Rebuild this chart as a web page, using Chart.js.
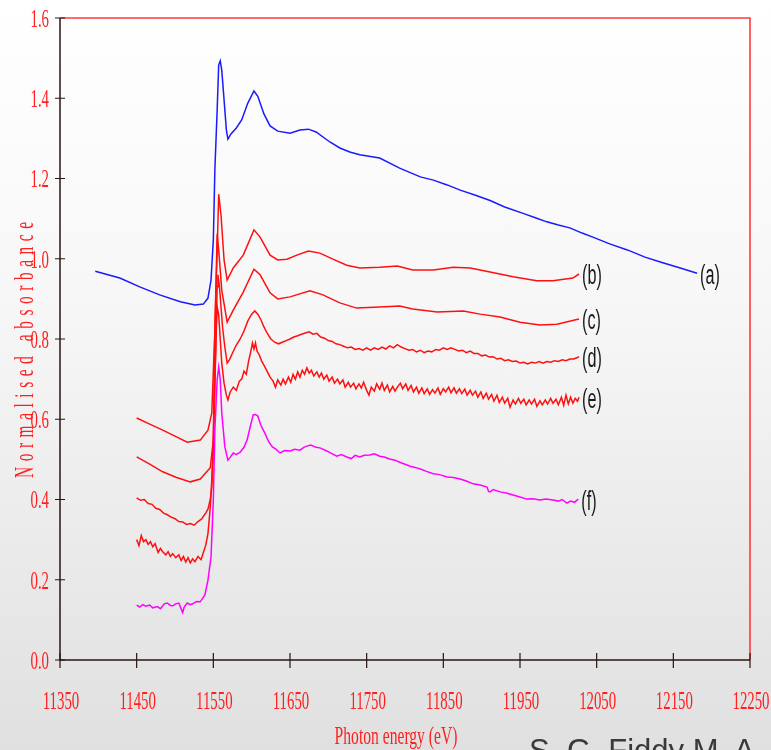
<!DOCTYPE html>
<html>
<head>
<meta charset="utf-8">
<script src="https://cdn.jsdelivr.net/npm/chart.js@4.4.1/dist/chart.umd.min.js"></script>
<style>
  html, body { margin: 0; padding: 0; }
  body {
    width: 771px; height: 750px; overflow: hidden; position: relative;
    background: linear-gradient(to bottom, #ffffff 0%, #f7f7f7 40%, #dfe0df 100%);
  }
  #wrap { position: absolute; left: 0; top: 0; width: 771px; height: 750px; }
  #credit {
    position: absolute; left: 529px; top: 735px;
    font-family: "Liberation Sans", Arial, sans-serif; font-size: 31px; line-height: 31px;
    color: #3a3a3a; white-space: nowrap;
  }
</style>
</head>
<body>
<div id="wrap"><canvas id="xanes" width="771" height="750"></canvas></div>
<div id="credit">S. G. Fiddy M. A</div>
<script>
// tick values
const xTicks = [11350, 11450, 11550, 11650, 11750, 11850, 11950, 12050, 12150, 12250];
const yTicks = [0, 0.2, 0.4, 0.6, 0.8, 1.0, 1.2, 1.4, 1.6];

const xTitle = 'Photon energy (eV)';
const yTitle = 'Normalised absorbance';

// [photon energy (eV), normalised absorbance]
const curveA = [[11396,0.969],[11428,0.952],[11454,0.930],[11480,0.910],[11507,0.893],[11526,0.885],[11537,0.887],
  [11543,0.902],[11547,0.947],[11550,1.047],[11552,1.221],[11555,1.371],[11557,1.483],[11559,1.493],[11561,1.470],
  [11564,1.396],[11567,1.321],[11569,1.298],[11573,1.311],[11580,1.326],[11587,1.346],[11595,1.388],[11603,1.418],
  [11608,1.405],[11616,1.361],[11624,1.331],[11634,1.318],[11650,1.313],[11663,1.321],[11674,1.323],[11684,1.316],
  [11702,1.291],[11715,1.276],[11728,1.266],[11741,1.259],[11757,1.254],[11767,1.251],[11793,1.226],[11820,1.204],
  [11837,1.196],[11855,1.184],[11872,1.171],[11891,1.159],[11911,1.145],[11930,1.129],[11954,1.113],[11970,1.102],
  [11985,1.092],[12000,1.084],[12015,1.077],[12031,1.064],[12045,1.054],[12067,1.037],[12090,1.022],[12113,1.004],
  [12133,0.992],[12159,0.977],[12181,0.964]];

const curveB = [[11450,0.603],[11467,0.588],[11484,0.573],[11500,0.558],[11516,0.543],[11533,0.548],[11543,0.573],
  [11548,0.616],[11552,0.822],[11555,1.022],[11557,1.161],[11560,1.109],[11564,0.997],[11568,0.947],[11576,0.977],
  [11589,1.009],[11603,1.072],[11611,1.054],[11624,1.009],[11634,0.997],[11646,0.999],[11659,1.009],[11674,1.019],
  [11689,1.014],[11706,0.999],[11724,0.984],[11741,0.977],[11767,0.979],[11790,0.982],[11810,0.972],[11837,0.972],
  [11863,0.979],[11885,0.977],[11911,0.967],[11941,0.955],[11972,0.945],[11993,0.945],[12019,0.952],[12027,0.962]];

const curveC = [[11450,0.506],[11467,0.488],[11484,0.469],[11502,0.455],[11520,0.444],[11533,0.451],[11546,0.479],
  [11550,0.548],[11552,0.822],[11555,1.062],[11557,1.022],[11561,0.922],[11568,0.842],[11576,0.872],[11589,0.917],
  [11603,0.974],[11611,0.960],[11624,0.915],[11634,0.900],[11650,0.905],[11676,0.920],[11693,0.910],[11715,0.890],
  [11737,0.877],[11767,0.880],[11793,0.882],[11810,0.875],[11842,0.867],[11876,0.870],[11898,0.862],[11924,0.855],
  [11950,0.842],[11976,0.835],[11998,0.837],[12027,0.850]];

const curveD = [[11450,0.404],[11455,0.398],[11460,0.400],[11465,0.390],[11470,0.388],[11475,0.378],[11480,0.375],
  [11485,0.366],[11490,0.362],[11495,0.356],[11500,0.352],[11505,0.345],[11510,0.344],[11515,0.338],[11520,0.340],
  [11525,0.336],[11530,0.345],[11535,0.352],[11540,0.366],[11543,0.376],[11546,0.400],[11548,0.430],[11550,0.520],
  [11552,0.680],[11554,0.850],[11555,0.930],[11556,0.960],[11558,0.930],[11560,0.880],[11562,0.830],[11565,0.780],
  [11568,0.740],[11571,0.748],[11575,0.765],[11580,0.785],[11585,0.800],[11590,0.820],[11595,0.845],[11600,0.862],
  [11604,0.870],[11608,0.862],[11612,0.848],[11616,0.830],[11620,0.815],[11625,0.800],[11630,0.792],[11635,0.788],
  [11640,0.792],[11645,0.796],[11650,0.800],[11655,0.805],[11660,0.808],[11665,0.812],[11670,0.815],[11675,0.818],
  [11680,0.812],[11685,0.814],[11690,0.805],[11695,0.802],[11700,0.796],[11705,0.794],[11710,0.788],[11715,0.786],
  [11720,0.782],[11725,0.778],[11730,0.780],[11735,0.774],[11740,0.776],[11745,0.772],[11750,0.778],[11755,0.772],
  [11760,0.778],[11765,0.774],[11770,0.780],[11775,0.775],[11780,0.783],[11785,0.778],[11790,0.786],[11795,0.780],
  [11800,0.776],[11805,0.772],[11810,0.774],[11815,0.768],[11820,0.772],[11825,0.766],[11830,0.770],[11835,0.768],
  [11840,0.774],[11845,0.772],[11850,0.778],[11855,0.774],[11860,0.778],[11865,0.774],[11870,0.770],[11875,0.772],
  [11880,0.766],[11885,0.770],[11890,0.764],[11895,0.764],[11900,0.758],[11905,0.760],[11910,0.755],[11915,0.756],
  [11920,0.750],[11925,0.752],[11930,0.746],[11935,0.748],[11940,0.744],[11945,0.745],[11950,0.740],[11955,0.742],
  [11960,0.738],[11965,0.742],[11970,0.740],[11975,0.744],[11980,0.740],[11985,0.744],[11990,0.742],[11995,0.746],
  [12000,0.744],[12005,0.748],[12010,0.746],[12015,0.750],[12020,0.750],[12025,0.754],[12027,0.756]];

const curveE = [[11450,0.300],[11453,0.285],[11456,0.310],[11459,0.295],[11462,0.300],[11465,0.288],[11468,0.295],
  [11471,0.282],[11474,0.290],[11478,0.268],[11481,0.278],[11484,0.270],[11488,0.262],[11491,0.270],[11494,0.258],
  [11497,0.265],[11501,0.255],[11505,0.262],[11508,0.248],[11511,0.258],[11514,0.244],[11517,0.255],[11520,0.242],
  [11523,0.252],[11526,0.245],[11530,0.258],[11534,0.250],[11537,0.268],[11540,0.285],[11543,0.315],[11546,0.380],
  [11548,0.450],[11550,0.560],[11552,0.700],[11554,0.830],[11555,0.880],[11557,0.860],[11559,0.800],[11561,0.740],
  [11564,0.690],[11567,0.660],[11569,0.648],[11572,0.668],[11576,0.680],[11580,0.672],[11584,0.695],[11587,0.700],
  [11590,0.720],[11593,0.712],[11596,0.745],[11599,0.770],[11601,0.790],[11603,0.775],[11605,0.790],[11607,0.770],
  [11610,0.760],[11613,0.745],[11616,0.735],[11620,0.720],[11624,0.705],[11628,0.695],[11631,0.680],[11634,0.698],
  [11638,0.685],[11641,0.700],[11644,0.688],[11648,0.705],[11651,0.692],[11654,0.712],[11657,0.700],[11660,0.718],
  [11663,0.705],[11666,0.722],[11669,0.712],[11672,0.728],[11675,0.715],[11678,0.722],[11681,0.708],[11685,0.718],
  [11688,0.705],[11691,0.715],[11694,0.700],[11698,0.710],[11701,0.695],[11705,0.705],[11708,0.690],[11712,0.700],
  [11715,0.688],[11719,0.698],[11722,0.680],[11726,0.692],[11729,0.680],[11733,0.690],[11736,0.676],[11740,0.688],
  [11743,0.678],[11746,0.692],[11750,0.672],[11753,0.660],[11756,0.680],[11760,0.670],[11763,0.688],[11767,0.675],
  [11770,0.690],[11773,0.672],[11777,0.685],[11780,0.668],[11784,0.682],[11787,0.670],[11790,0.680],[11794,0.690],
  [11797,0.676],[11801,0.688],[11804,0.672],[11808,0.684],[11811,0.668],[11815,0.680],[11818,0.665],[11822,0.678],
  [11825,0.664],[11829,0.676],[11832,0.662],[11836,0.674],[11839,0.665],[11843,0.678],[11846,0.662],[11850,0.676],
  [11853,0.668],[11857,0.680],[11860,0.666],[11864,0.678],[11867,0.665],[11871,0.676],[11874,0.664],[11878,0.675],
  [11881,0.660],[11885,0.672],[11888,0.660],[11892,0.670],[11895,0.655],[11899,0.668],[11902,0.652],[11906,0.665],
  [11909,0.650],[11913,0.662],[11916,0.645],[11920,0.660],[11923,0.642],[11927,0.655],[11930,0.640],[11934,0.652],
  [11937,0.630],[11941,0.648],[11944,0.638],[11948,0.652],[11951,0.640],[11955,0.650],[11958,0.636],[11962,0.648],
  [11965,0.638],[11969,0.650],[11972,0.632],[11976,0.646],[11979,0.636],[11983,0.648],[11986,0.638],[11990,0.652],
  [11993,0.640],[11997,0.650],[12000,0.636],[12004,0.655],[12007,0.635],[12010,0.660],[12013,0.638],[12016,0.655],
  [12019,0.640],[12022,0.652],[12025,0.645],[12027,0.655]];

const curveF = [[11450,0.137],[11454,0.132],[11458,0.138],[11462,0.134],[11467,0.137],[11471,0.130],[11477,0.133],
  [11481,0.128],[11486,0.140],[11490,0.142],[11494,0.136],[11497,0.135],[11501,0.140],[11505,0.142],[11508,0.128],
  [11510,0.118],[11512,0.132],[11516,0.142],[11520,0.138],[11523,0.140],[11528,0.146],[11533,0.145],[11539,0.162],
  [11543,0.199],[11547,0.257],[11550,0.399],[11552,0.573],[11555,0.698],[11557,0.730],[11559,0.700],[11561,0.616],
  [11565,0.531],[11569,0.498],[11572,0.505],[11576,0.516],[11580,0.512],[11585,0.518],[11590,0.530],[11594,0.548],
  [11598,0.580],[11602,0.611],[11605,0.612],[11608,0.608],[11612,0.585],[11617,0.566],[11622,0.545],[11627,0.531],
  [11632,0.525],[11637,0.516],[11643,0.522],[11650,0.521],[11656,0.525],[11663,0.523],[11668,0.530],[11672,0.533],
  [11677,0.536],[11683,0.531],[11690,0.528],[11698,0.521],[11704,0.515],[11711,0.508],[11717,0.512],[11724,0.506],
  [11730,0.502],[11735,0.510],[11741,0.506],[11747,0.510],[11754,0.511],[11760,0.514],[11767,0.508],[11773,0.506],
  [11780,0.501],[11787,0.498],[11793,0.493],[11800,0.488],[11807,0.483],[11813,0.480],[11820,0.476],[11828,0.470],
  [11837,0.464],[11845,0.462],[11855,0.456],[11863,0.455],[11872,0.451],[11880,0.446],[11889,0.439],[11898,0.436],
  [11907,0.431],[11909,0.420],[11911,0.419],[11915,0.425],[11924,0.419],[11932,0.416],[11941,0.411],[11950,0.406],
  [11959,0.401],[11967,0.402],[11976,0.399],[11984,0.401],[11993,0.399],[12000,0.396],[12005,0.400],[12011,0.391],
  [12016,0.396],[12021,0.393],[12026,0.401]];

const squeeze = 0.57;   // the original text is narrow and tall
const axisRed = '#ff1f1f';
const serif = '"Liberation Serif", "Times New Roman", serif';

function squeezed(ctx, text, x, y, align, sx) {
  ctx.save();
  ctx.translate(x, y);
  ctx.scale(sx || squeeze, 1);
  ctx.textAlign = align;
  ctx.fillText(text, 0, 0);
  ctx.restore();
}

const framePlugin = {
  id: 'frame',
  beforeDatasetsDraw(chart) {
    const { ctx, chartArea: a, scales: { x, y } } = chart;
    ctx.save();
    // red top and right edge
    ctx.strokeStyle = '#ff3b3b';
    ctx.lineWidth = 1.6;
    ctx.beginPath();
    ctx.moveTo(a.left, a.top); ctx.lineTo(a.right, a.top); ctx.lineTo(a.right, a.bottom);
    ctx.stroke();
    // axes
    ctx.strokeStyle = '#2a1414';
    ctx.lineWidth = 1.5;
    ctx.beginPath();
    ctx.moveTo(a.left, a.top); ctx.lineTo(a.left, a.bottom); ctx.lineTo(a.right, a.bottom);
    ctx.stroke();
    // ticks cross the axis lines
    ctx.lineWidth = 1.2;
    ctx.beginPath();
    x.ticks.forEach(t => {
      const px = x.getPixelForValue(t.value);
      ctx.moveTo(px, a.bottom - 7); ctx.lineTo(px, a.bottom + 8);
    });
    y.ticks.forEach(t => {
      const py = y.getPixelForValue(t.value);
      ctx.moveTo(a.left - 5, py); ctx.lineTo(a.left + 5, py);
    });
    ctx.stroke();

    // tick labels
    ctx.fillStyle = axisRed;
    ctx.font = '26px ' + serif;
    ctx.textBaseline = 'middle';
    x.ticks.forEach(t => squeezed(ctx, String(t.value), x.getPixelForValue(t.value) + 1, a.bottom + 42, 'center'));
    y.ticks.forEach(t => squeezed(ctx, t.value.toFixed(1), a.left - 11, y.getPixelForValue(t.value) + 2, 'right'));

    // axis titles
    ctx.font = '26px ' + serif;
    squeezed(ctx, xTitle, (a.left + a.right) / 2 - 9, a.bottom + 77, 'center', 0.6);

    // y title: letter spaced, reading upward
    ctx.font = '27px ' + serif;
    ctx.textBaseline = 'alphabetic';
    const chars = yTitle.split('');
    const widths = chars.map(c => ctx.measureText(c).width * squeeze);
    const span = 256;
    const gap = (span - widths.reduce((s, w) => s + w, 0)) / (chars.length - 1);
    ctx.translate(33, (a.top + a.bottom) / 2 + 11);
    ctx.rotate(-Math.PI / 2);
    let pos = -span / 2;
    chars.forEach((c, i) => {
      squeezed(ctx, c, pos, 0, 'left');
      pos += widths[i] + gap;
    });
    ctx.restore();
  },
  afterDatasetsDraw(chart) {
    const { ctx } = chart;
    ctx.save();
    ctx.fillStyle = '#1a1a1a';
    ctx.font = '27px "Liberation Sans", Arial, sans-serif';
    ctx.textBaseline = 'middle';
    chart.data.datasets.forEach((ds, i) => {
      const pts = chart.getDatasetMeta(i).data;
      const last = pts[pts.length - 1];
      squeezed(ctx, ds.label, last.x + 3, last.y + 3, 'left', 0.6);
    });
    ctx.restore();
  }
};

function series(label, pts, color) {
  return {
    label: label,
    data: pts.map(p => ({ x: p[0], y: p[1] })),
    borderColor: color,
    borderWidth: 1.5,
    pointRadius: 0,
    showLine: true,
    tension: 0
  };
}

const ctx = document.getElementById('xanes').getContext('2d');
const xanesChart = new Chart(ctx, {
  type: 'scatter',
  data: {
    datasets: [
      series('(f)', curveF, '#ff00ff'),
      series('(e)', curveE, '#ff1010'),
      series('(d)', curveD, '#ff1010'),
      series('(c)', curveC, '#ff1010'),
      series('(b)', curveB, '#ff1010'),
      series('(a)', curveA, '#1a1aff')
    ]
  },
  options: {
    responsive: false,
    animation: false,
    layout: { padding: { left: 0, right: 21, top: 18, bottom: 0 } },
    plugins: { legend: { display: false }, tooltip: { enabled: false } },
    scales: {
      x: {
        type: 'linear', min: 11350, max: 12250,
        ticks: { display: false },
        grid: { display: false }, border: { display: false },
        afterBuildTicks(s) { s.ticks = xTicks.map(v => ({ value: v })); },
        afterFit(s) { s.height = 90; }
      },
      y: {
        type: 'linear', min: 0, max: 1.6,
        ticks: { display: false },
        grid: { display: false }, border: { display: false },
        afterBuildTicks(s) { s.ticks = yTicks.map(v => ({ value: v })); },
        afterFit(s) { s.width = 60; }
      }
    }
  },
  plugins: [framePlugin]
});
</script>
</body>
</html>
